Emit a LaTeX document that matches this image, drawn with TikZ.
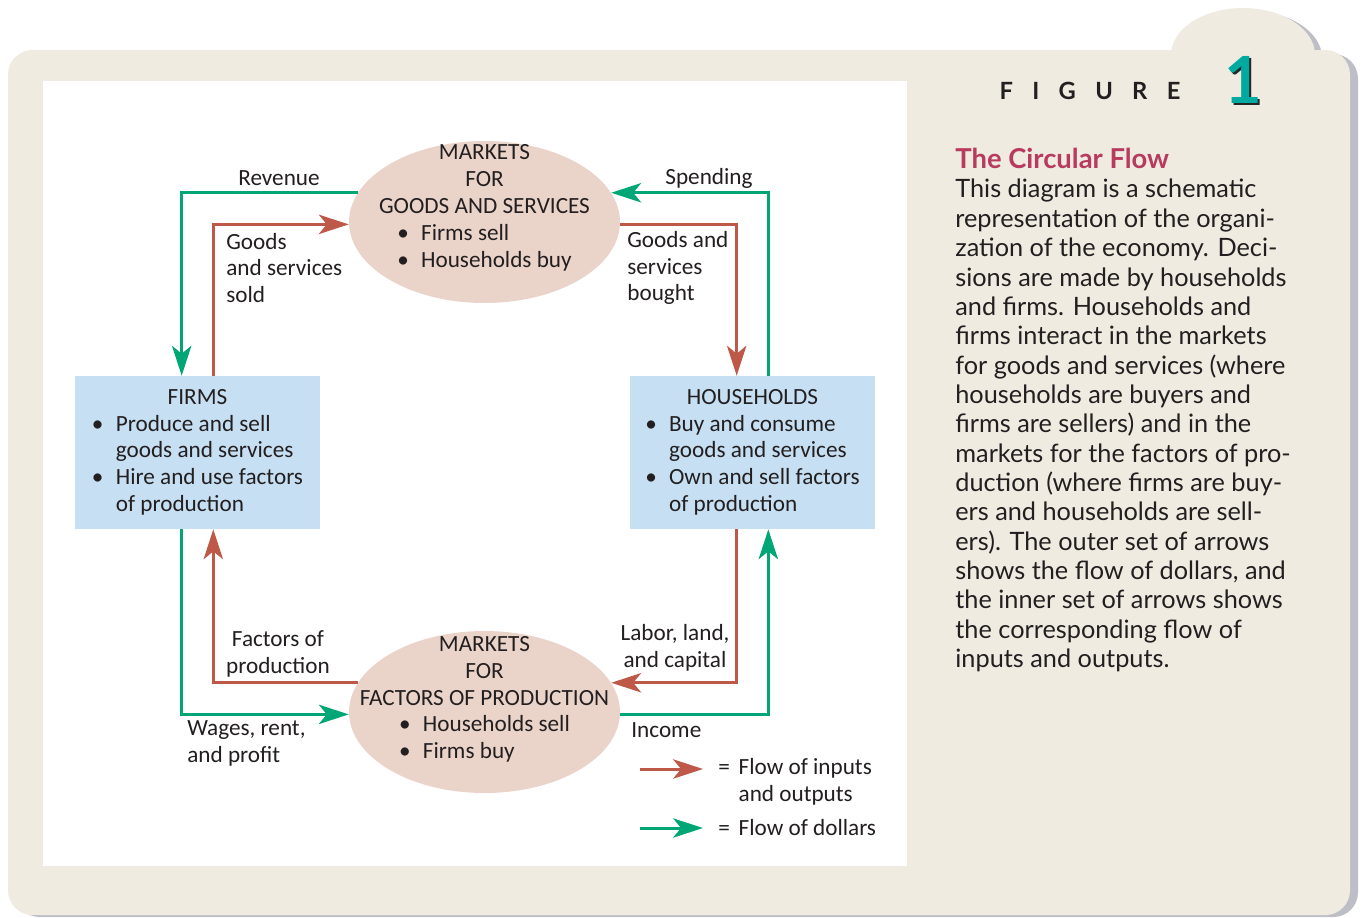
\documentclass[tikz,border=0pt]{standalone}
\usepackage{fontspec}
\setmainfont{Carlito}
\newfontfamily\descfont{Lato}
\usepackage{tikz}
\usetikzlibrary{shapes,arrows.meta,calc,positioning}

\definecolor{panelcol}{RGB}{239,235,225}
\definecolor{marketfill}{RGB}{234,211,200}
\definecolor{sectorfill}{RGB}{198,223,242}
\definecolor{dollarcol}{RGB}{0,166,118}
\definecolor{flowcol}{RGB}{190,88,72}
\definecolor{figteal}{RGB}{0,170,160}
\definecolor{titlecol}{RGB}{185,58,95}
\definecolor{inkcol}{RGB}{35,31,32}
\definecolor{shadecol}{RGB}{190,190,198}

\newcommand{\diagsize}{\fontsize{13.2}{15.3}\selectfont}
\newcommand{\descsize}{\fontsize{14.4}{16.7}\selectfont}
\newcommand{\figgap}{\hspace{11pt}}

\begin{document}
\begin{tikzpicture}[x=0.02cm, y=-0.02cm,
    market/.style={ellipse, fill=marketfill, minimum width=5.42cm, minimum height=3.24cm, inner sep=0pt},
    sector/.style={rectangle, fill=sectorfill, minimum width=4.92cm, minimum height=3.06cm, inner sep=0pt, text=inkcol, font=\diagsize},
    lbl/.style={inner sep=0pt, text=inkcol, font=\diagsize},
    dollar/.style={draw=dollarcol, line width=1.7pt, -{Stealth[length=17pt, width=11pt, inset=4.5pt]}},
    flow/.style={draw=flowcol, line width=1.7pt, -{Stealth[length=17pt, width=11pt, inset=4.5pt]}}]
        \useasboundingbox (0,0) rectangle (1368,917);

        % Panel and shadow
        \fill[shadecol, rounded corners=14pt] (15,54) rectangle (1358,917);
        \fill[shadecol] (1250,58) ellipse [x radius=72, y radius=47];
        \fill[panelcol, rounded corners=14pt] (8,50) rectangle (1350,915);
        \fill[panelcol] (1243,55) ellipse [x radius=72, y radius=47];
        \fill[white] (43,81) rectangle (907,866);

        % Define the nodes
        \node[market] (goods) at (484.5,222) {};
        \node[market] (factors) at (484.5,712) {};
        \node[lbl] (goodstxt) at ([yshift=8pt]goods.center) {\begin{tabular}{c}MARKETS\\FOR\\GOODS AND SERVICES\\
            \begin{tabular}{@{}l@{\hspace{7pt}}l@{}}\textbullet & Firms sell\\ \textbullet & Households buy\end{tabular}\end{tabular}};
        \node[lbl] (factorstxt) at ([yshift=7pt]factors.center) {\begin{tabular}{c}MARKETS\\FOR\\FACTORS OF PRODUCTION\\
            \begin{tabular}{@{}l@{\hspace{7pt}}l@{}}\textbullet & Households sell\\ \textbullet & Firms buy\end{tabular}\end{tabular}};
        \node[sector] (firms) at (197.5,452.5) {\begin{tabular}{@{}l@{\hspace{7pt}}l@{}}\multicolumn{2}{c}{FIRMS}\\
            \textbullet & Produce and sell\\ & goods and services\\ \textbullet & Hire and use factors\\ & of production\end{tabular}};
        \node[sector] (households) at (752.5,452.5) {\begin{tabular}{@{}l@{\hspace{7pt}}l@{}}\multicolumn{2}{c}{HOUSEHOLDS}\\
            \textbullet & Buy and consume\\ & goods and services\\ \textbullet & Own and sell factors\\ & of production\end{tabular}};

        % Flow of dollars
        \draw[dollar] (goods.167) -| ([xshift=-9pt]firms.north);
        \draw[dollar] ([xshift=9pt]households.north) |- (goods.13);
        \draw[dollar] ([xshift=-9pt]firms.south) |- (factors.181);
        \draw[dollar] (factors.359) -| ([xshift=9pt]households.south);

        % Flow of inputs and outputs
        \draw[flow] ([xshift=9pt]firms.north) |- (goods.181);
        \draw[flow] (goods.359) -| ([xshift=-9pt]households.north);
        \draw[flow] ([xshift=-9pt]households.south) |- (factors.13);
        \draw[flow] (factors.167) -| ([xshift=9pt]firms.south);

        % Labels of the links
        \node[lbl] (revenue) at (279,178) {Revenue};
        \node[lbl, align=left, anchor=west] (sold) at (226,268) {Goods\\and services\\sold};
        \node[lbl] (spending) at (709,178) {Spending};
        \node[lbl, align=left, anchor=west] (bought) at (627,268) {Goods and\\services\\bought};
        \node[lbl, align=center] (inputs) at (278,653.5) {Factors of\\production};
        \node[lbl, align=center] (labor) at (675,648) {Labor, land,\\and capital};
        \node[lbl, align=left, anchor=west] (wages) at (187,743.5) {Wages, rent,\\and profit};
        \node[lbl, anchor=west] (income) at (631,730) {Income};

        % Legend
        \coordinate (inA) at (640,769);
        \coordinate (inB) at (703,769);
        \coordinate (dolA) at (640,828);
        \coordinate (dolB) at (703,828);
        \draw[flow] (inA) -- (inB);
        \draw[dollar] (dolA) -- (dolB);
        \node[lbl, anchor=west] (inkey) at (718,782.5) {\begin{tabular}{@{}l@{\hspace{5pt}}l@{}}= & Flow of inputs\\ & and outputs\end{tabular}};
        \node[lbl, anchor=west] (dolkey) at (718,828) {=\hspace{5pt}Flow of dollars};

        % Caption
        \node[inner sep=0pt, text=inkcol, font=\descfont\bfseries\fontsize{13.5}{16}\selectfont] (figword) at (1090,91) {F\figgap I\figgap G\figgap U\figgap R\figgap E};
        \node[inner sep=0pt, text=black!85, font=\descfont\bfseries\fontsize{37}{40}\selectfont] (fignumsh) at (1245.5,82) {1};
        \node[inner sep=0pt, text=figteal, font=\descfont\bfseries\fontsize{37}{40}\selectfont] (fignum) at (1243.5,80) {1};
        \node[inner sep=0pt, anchor=west, text=titlecol, font=\descfont\bfseries\fontsize{15.6}{18}\selectfont] (title) at (955,158) {The Circular Flow};
        \node[inner sep=0pt, anchor=north west, align=left, text=inkcol, font=\descfont\descsize] (desc) at (955,179) {This diagram is a schematic\\
            representation of the organi-\\zation of the economy. Deci-\\sions are made by households\\and firms. Households and\\
            firms interact in the markets\\for goods and services (where\\households are buyers and\\firms are sellers) and in the\\
            markets for the factors of pro-\\duction (where firms are buy-\\ers and households are sell-\\ers). The outer set of arrows\\
            shows the flow of dollars, and\\the inner set of arrows shows\\the corresponding flow of\\inputs and outputs.};
    \end{tikzpicture}
\end{document}
